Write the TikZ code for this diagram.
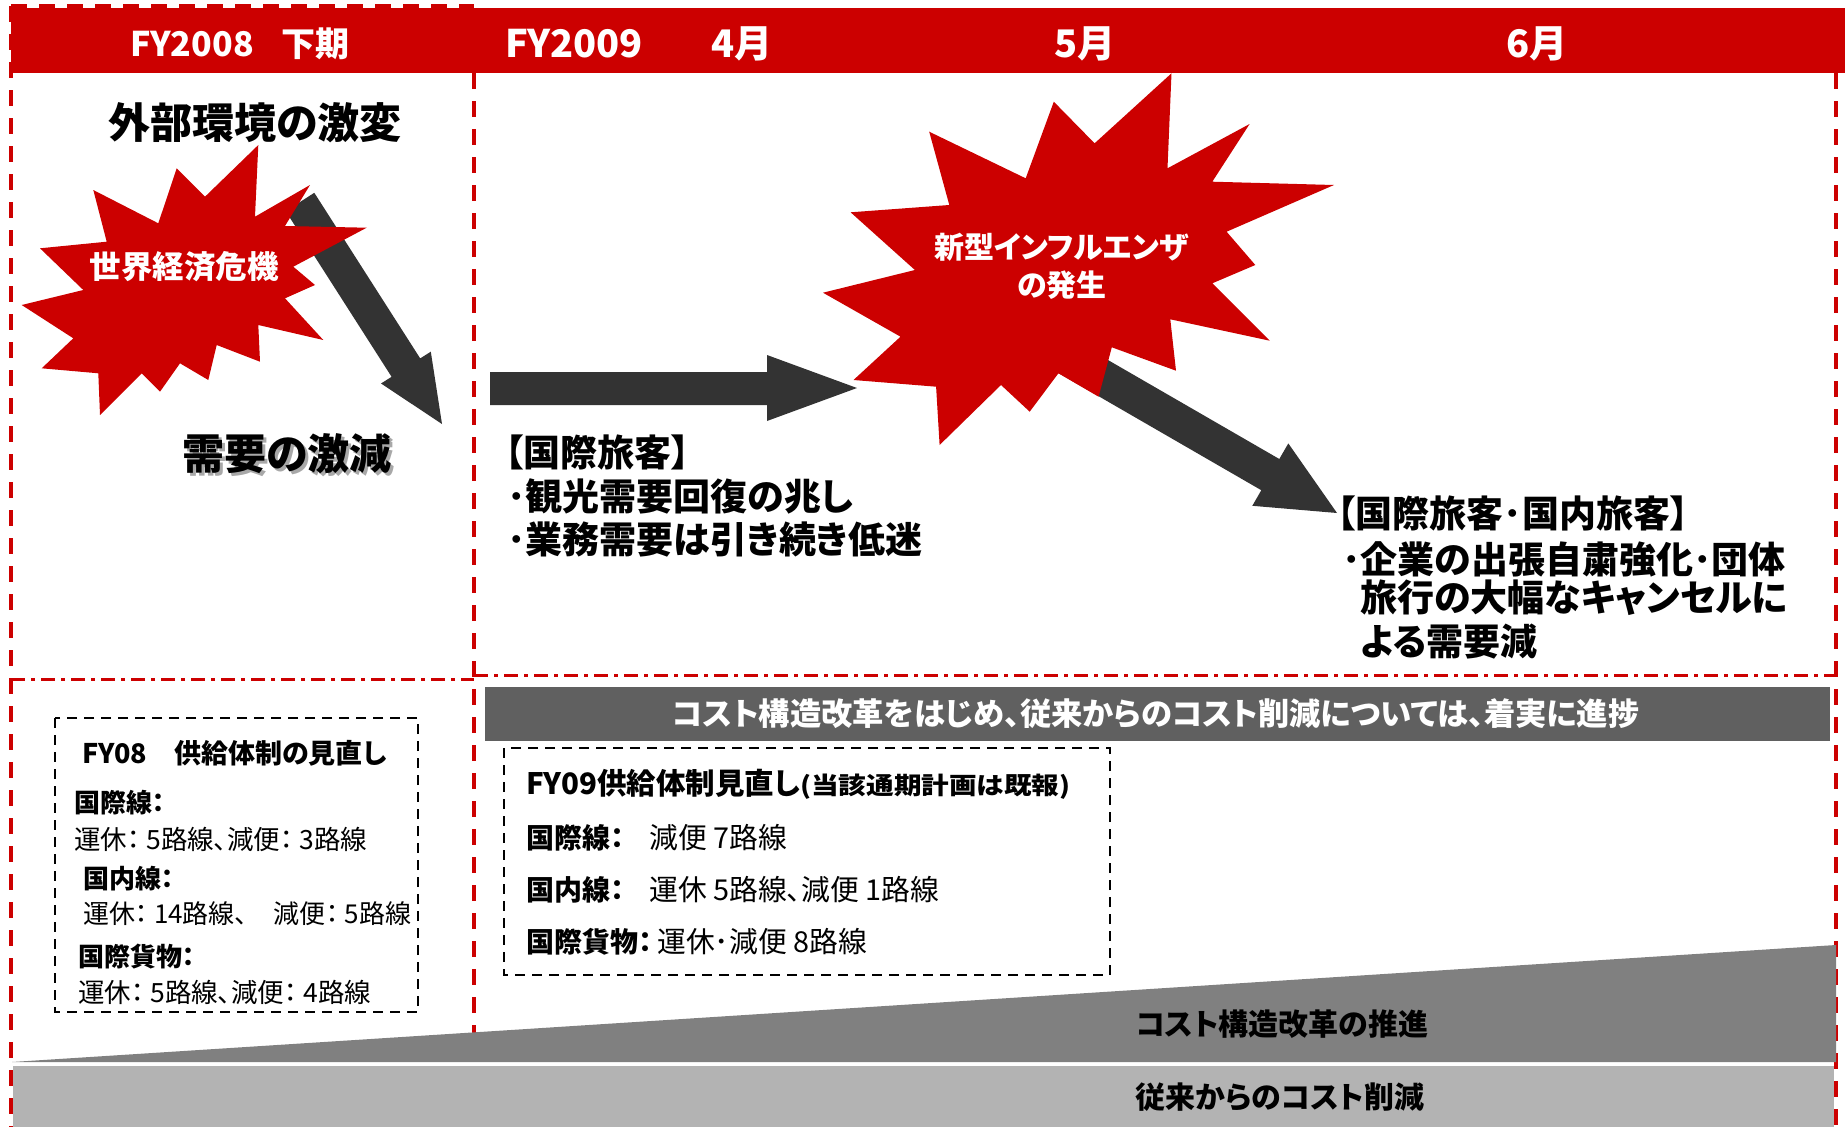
\documentclass[tikz,border=0pt]{standalone}
\usepackage{fontspec}
\setmainfont{Noto Sans CJK JP}[RawFeature=+palt]
\newcommand\myfs[2]{\fontsize{#1}{#2}\selectfont}
\definecolor{jred}{HTML}{CC0000}
\definecolor{darr}{HTML}{333333}
\definecolor{bann}{HTML}{606060}
\definecolor{trig}{HTML}{808080}
\definecolor{bandc}{HTML}{B3B3B3}
\definecolor{shad}{HTML}{A8A8A8}
\begin{document}
\begin{tikzpicture}[x=1pt,y=-1pt,
  redframe/.style={draw=jred,line width=3.3pt,dash pattern=on 16pt off 12pt},
  reddashdot/.style={draw=jred,line width=3pt,dash pattern=on 14pt off 6pt on 4pt off 6pt},
  blkbox/.style={draw=black,line width=2pt,dash pattern=on 10pt off 7pt},
  tl/.style={inner sep=0pt,anchor=west},
  hdr/.style={inner sep=0pt,text=white,font=\myfs{38}{44}\bfseries},
  big/.style={inner sep=0pt,font=\myfs{42}{48}\bfseries},
  starlbl/.style={inner sep=0pt,text=white,align=center},
  mid/.style={tl,font=\myfs{37}{44}\bfseries},
  boxb/.style={tl,font=\myfs{26}{30}\bfseries},
  boxr/.style={tl,font=\myfs{26.5}{30}},
  boxb9/.style={tl,font=\myfs{28}{32}\bfseries},
  boxr9/.style={tl,font=\myfs{28.8}{32}},
  bottomlbl/.style={inner sep=0pt,font=\myfs{30}{36}\bfseries}
]
\useasboundingbox (0,0) rectangle (1845,1127);

% header bar
\fill[jred] (11,8) rectangle (1845,73);
\node[hdr,font=\myfs{34}{40}\bfseries] (h1) at (240,44) {FY2008\hspace{28pt}下期};
\node[hdr] (h2) at (574,44) {FY2009};
\node[hdr] (h3) at (742,44) {4月};
\node[hdr] (h4) at (1085,44) {5月};
\node[hdr] (h5) at (1537,44) {6月};

% frames
\draw[redframe] (11,6) -- (474,6);
\draw[redframe] (11,6) -- (11,1127);
\draw[redframe] (474,73) -- (474,1035);
\draw[redframe] (1836,73) -- (1836,1127);
\draw[reddashdot] (11,679) -- (474,679);
\draw[reddashdot] (474,675) -- (1836,675);

% left column
\node[big] (env) at (255,123) {外部環境の激変};
\fill[darr] (314.3,192.8) -- (420.2,358.4) -- (430.8,351.7) -- (442,424) -- (381.0,383.5) -- (391.6,376.8) -- (285.7,211.2) -- cycle;
\fill[jred] (258.3,145) -- (255,216.7) -- (310,185) -- (285,226) -- (366.7,227.7) -- (293.3,266.7) -- (315,285) -- (285,298.3) -- (323.3,340) -- (258.3,325) -- (260,361.7) -- (216.7,345) -- (208.3,380) -- (180,363.3) -- (160,391.7) -- (141.7,373.3) -- (100,415) -- (98.3,373.3) -- (41.7,368.3) -- (73.3,338.3) -- (21.7,305) -- (83.3,290) -- (40,248.3) -- (106.7,241.7) -- (93.3,190) -- (158.3,223.3) -- (176.7,168.3) -- (205,196.7) -- cycle;
\node[starlbl,font=\myfs{31.5}{36}\bfseries] (crisis) at (184,267) {世界経済危機};
\node[big,text=shad] (demshadow) at (290,457) {需要の激減};
\node[big] (demand) at (287,454) {需要の激減};

% middle: arrows and starburst
\fill[darr] (490,372) -- (767,372) -- (767,355) -- (857,388) -- (767,421) -- (767,405) -- (490,405) -- cycle;
\fill[darr] (1074.0,340.4) -- (1279.3,459.0) -- (1288.3,443.4) -- (1337,513) -- (1252.3,505.8) -- (1261.3,490.2) -- (1056.0,371.6) -- cycle;
\fill[jred] (1171.5,73.3) -- (1167.5,168.3) -- (1249.6,124) -- (1212.3,181.7) -- (1334,185) -- (1226.6,231.7) -- (1255.3,265) -- (1212.3,283.3) -- (1269.7,340.7) -- (1170.3,319.3) -- (1176,370.7) -- (1111.8,347.3) -- (1098.6,396.7) -- (1058.4,373.3) -- (1029.7,411.7) -- (1001,385) -- (939.6,445) -- (936.1,386.7) -- (853.5,380) -- (900.5,336.7) -- (823,292.7) -- (914.9,270) -- (850.6,212.3) -- (949.3,205) -- (929.2,131.7) -- (1025.7,178.3) -- (1053.8,101.7) -- (1094.6,143.3) -- cycle;
\node[starlbl,font=\myfs{30}{38}\bfseries] (flu) at (1062,266) {新型インフルエンザ\\の発生};

\node[mid] (mt1) at (505,452) {【国際旅客】};
\node[mid] (mt2) at (507,496) {･観光需要回復の兆し};
\node[mid] (mt3) at (507,540) {･業務需要は引き続き低迷};

\node[mid] (rt1) at (1337,513) {【国際旅客･国内旅客】};
\node[mid] (rt2) at (1342,559) {･企業の出張自粛強化･団体};
\node[mid] (rt3) at (1360,598) {旅行の大幅なキャンセルに};
\node[mid] (rt4) at (1360,642) {よる需要減};

% FY08 box
\draw[blkbox] (55,718) rectangle (418,1012);
\node[tl,font=\myfs{27}{30}\bfseries] (b1) at (82,753) {FY08　供給体制の見直し};
\node[boxb] (b2) at (74,803) {国際線：};
\node[boxr] (b3) at (74,839) {運休： 5路線、減便： 3路線};
\node[boxb] (b4) at (83,879) {国内線：};
\node[boxr,font=\myfs{26}{30}] (b5) at (83,914) {運休： 14路線、　減便： 5路線};
\node[boxb] (b6) at (78,957) {国際貨物：};
\node[boxr] (b7) at (78,992) {運休： 5路線、減便： 4路線};

% banner
\fill[bann] (485,687) rectangle (1830,741);
\node[inner sep=0pt,text=white,font=\myfs{31.3}{36}\bfseries] (ban) at (1156,714) {コスト構造改革をはじめ、従来からのコスト削減については、着実に進捗};

% FY09 box
\draw[blkbox] (504,748) rectangle (1110,975);
\node[tl,font=\myfs{29.5}{32}\bfseries] (c1) at (526,784) {FY09供給体制見直し\scalebox{1.15}[1]{\myfs{24}{28}(当該通期計画は既報)}};
\node[boxb9] (c2a) at (526,838) {国際線：};
\node[boxr9] (c2b) at (649,838) {減便 7路線};
\node[boxb9] (c3a) at (526,890) {国内線：};
\node[boxr9] (c3b) at (649,890) {運休 5路線、減便 1路線};
\node[boxb9] (c4a) at (526,942) {国際貨物：};
\node[boxr9] (c4b) at (657,942) {運休･減便 8路線};

% bottom
\fill[trig] (12,1062) -- (1836,945) -- (1836,1062) -- cycle;
\fill[bandc] (13,1066) rectangle (1834,1127);
\node[bottomlbl] (tri) at (1282,1024) {コスト構造改革の推進};
\node[bottomlbl] (bnd) at (1280,1097) {従来からのコスト削減};
\end{tikzpicture}
\end{document}
